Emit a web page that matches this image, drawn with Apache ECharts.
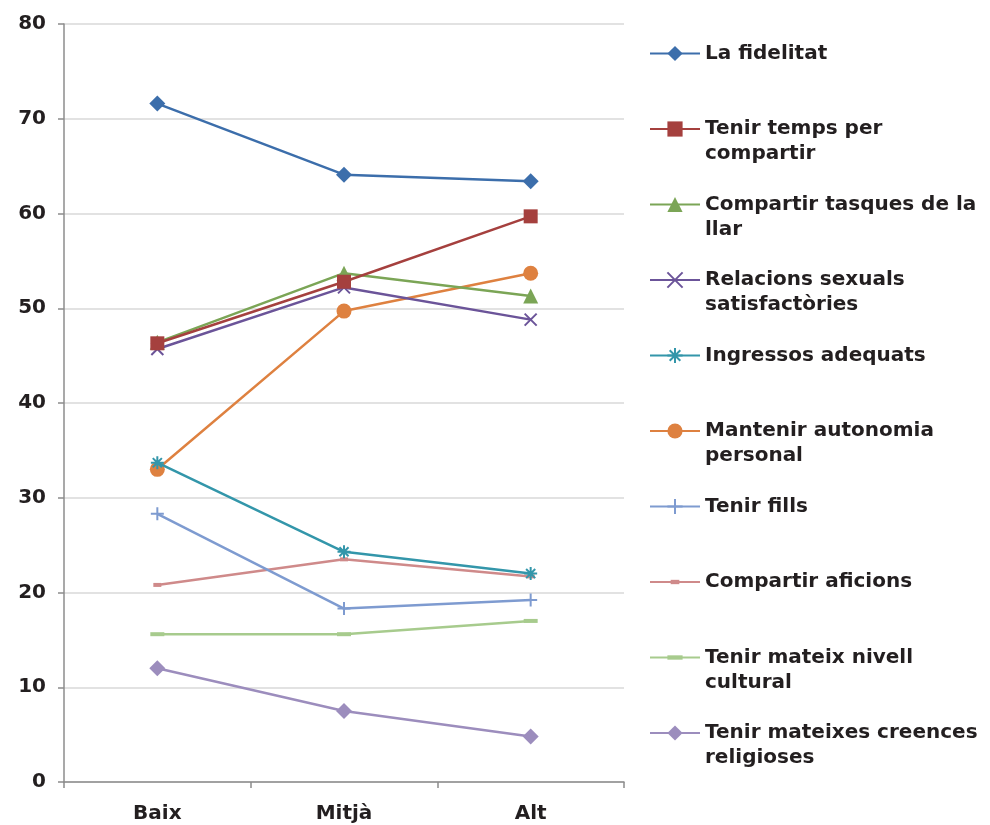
<!DOCTYPE html>
<html>
<head>
<meta charset="utf-8">
<script src="https://cdn.jsdelivr.net/npm/echarts@6/dist/echarts.min.js"></script>
<style>
  html, body { margin: 0; padding: 0; background: #fff; }
  #main { width: 990px; height: 825px; }
</style>
</head>
<body>
<div id="main"></div>
<script>
var categories = ['Baix', 'Mitjà', 'Alt'];
var yTicks = [0, 10, 20, 30, 40, 50, 60, 70, 80];

var fidelitat = [71.6, 64.1, 63.4];
var tempsCompartir = [46.3, 52.8, 59.7];
var tasquesLlar = [46.4, 53.7, 51.3];
var relacionsSexuals = [45.7, 52.2, 48.8];
var ingressos = [33.7, 24.3, 22.0];
var autonomia = [33.0, 49.7, 53.7];
var fills = [28.3, 18.3, 19.2];
var aficions = [20.8, 23.5, 21.7];
var nivellCultural = [15.6, 15.6, 17.0];
var creences = [12.0, 7.5, 4.8];

var names = [
    ['La fidelitat'],
    ['Tenir temps per', 'compartir'],
    ['Compartir tasques de la', 'llar'],
    ['Relacions sexuals', 'satisfactòries'],
    ['Ingressos adequats'],
    ['Mantenir autonomia', 'personal'],
    ['Tenir fills'],
    ['Compartir aficions'],
    ['Tenir mateix nivell', 'cultural'],
    ['Tenir mateixes creences', 'religioses']
];

var FONT = 'DejaVu Sans';
var crossPath = 'path://M0,0L10,10M10,0L0,10';
var starPath = 'path://M5,0L5,10M0,5L10,5M1.5,1.5L8.5,8.5M8.5,1.5L1.5,8.5';
var plusPath = 'path://M5,0L5,10M0,5L10,5';
// guions (marcadors curts), amb punts invisibles per fixar la caixa
var shortDash = 'path://M0,0M14,14M3,5L11,5L11,9L3,9Z';
var longDash = 'path://M0,0M14,14M0,5L14,5L14,9L0,9Z';

// nom de la llegenda: sempre 3 línies, la primera línia real al mig
function legendName(parts) {
    return '\n' + parts[0] + '\n' + (parts[1] || '');
}

function makeSeries(idx, data, color, symbol, size, stroke) {
    var s = {
        name: legendName(names[idx]),
        type: 'line',
        data: data,
        symbol: symbol,
        symbolSize: size,
        symbolKeepAspect: true,
        showAllSymbol: true,
        lineStyle: { color: color, width: 2.5 },
        itemStyle: { color: color },
        emphasis: { disabled: true },
        z: 10 - idx
    };
    if (stroke) {
        s.itemStyle = { color: 'rgba(0,0,0,0)', borderColor: color, borderWidth: 2 };
    }
    return s;
}

var series = [
    makeSeries(0, fidelitat, '#3C6EAB', 'diamond', 16, false),
    makeSeries(1, tempsCompartir, '#A5403E', 'rect', 14, false),
    makeSeries(2, tasquesLlar, '#7BA556', 'triangle', 15, false),
    makeSeries(3, relacionsSexuals, '#6B5499', crossPath, 12, true),
    makeSeries(4, ingressos, '#3396AA', starPath, 13, true),
    makeSeries(5, autonomia, '#DE8140', 'circle', 15, false),
    makeSeries(6, fills, '#7E9BD0', plusPath, 13, true),
    makeSeries(7, aficions, '#CF8A8A', shortDash, 14, false),
    makeSeries(8, nivellCultural, '#A7CB8D', longDash, 14, false),
    makeSeries(9, creences, '#9C8DBD', 'diamond', 16, false)
];

var option = {
    animation: false,
    backgroundColor: '#fff',
    grid: { left: 64, right: 366, top: 24, bottom: 43 },
    legend: {
        orient: 'vertical',
        left: 649,
        top: 16,
        padding: 0,
        itemGap: 0.5,
        itemWidth: 50,
        itemHeight: 19,
        textStyle: { fontFamily: FONT, fontSize: 20, fontWeight: 'bold', color: '#231F20', lineHeight: 25 },
        data: series.map(function (s) { return s.name; })
    },
    xAxis: {
        type: 'category',
        data: categories,
        boundaryGap: true,
        axisLine: { lineStyle: { color: '#8C8C8C', width: 1.5 } },
        axisTick: { show: true, length: 6, lineStyle: { color: '#8C8C8C', width: 1.5 } },
        axisLabel: { fontFamily: FONT, fontSize: 20, fontWeight: 'bold', color: '#231F20', margin: 22 },
        splitLine: { show: false }
    },
    yAxis: {
        type: 'value',
        min: yTicks[0],
        max: yTicks[yTicks.length - 1],
        interval: 10,
        axisLine: { show: true, lineStyle: { color: '#8C8C8C', width: 1.5 } },
        axisTick: { show: true, length: 6, lineStyle: { color: '#8C8C8C', width: 1.5 } },
        axisLabel: { fontFamily: FONT, fontSize: 20, fontWeight: 'bold', color: '#231F20', margin: 18 },
        splitLine: { lineStyle: { color: '#D9D9D9', width: 1.5 } }
    },
    series: series
};

var myChart = echarts.init(document.getElementById('main'));
myChart.setOption(option);
</script>
</body>
</html>
